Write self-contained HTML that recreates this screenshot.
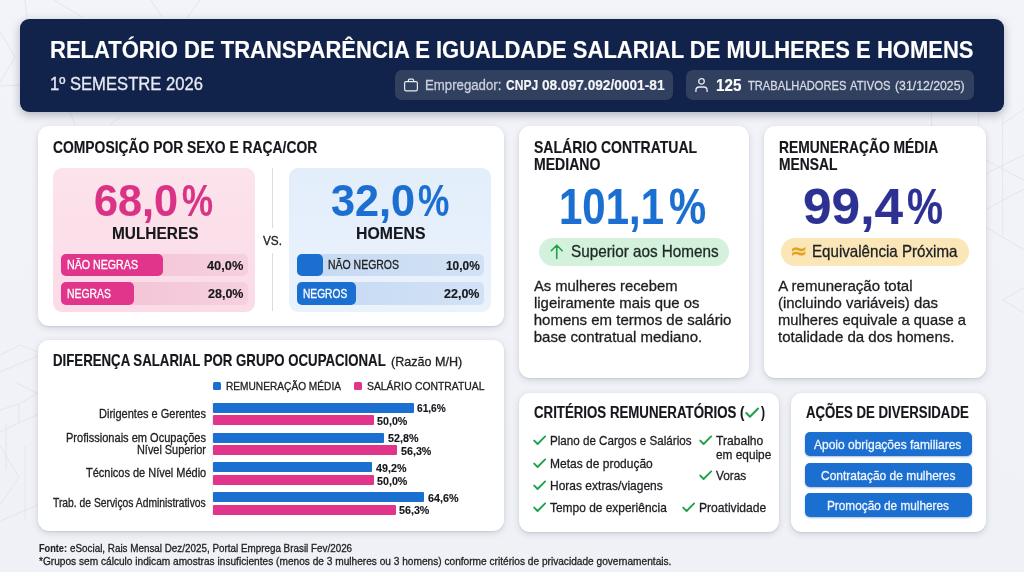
<!DOCTYPE html>
<html lang="pt-BR">
<head>
<meta charset="utf-8">
<title>Relatório de Transparência e Igualdade Salarial</title>
<style>
html,body{margin:0;padding:0;}
body{width:1024px;height:572px;overflow:hidden;position:relative;background:linear-gradient(180deg,#f3f4f9 0%,#eff1f6 100%);font-family:"Liberation Sans",Arial,sans-serif;}
.t{position:absolute;white-space:nowrap;line-height:1;margin:0;transform-origin:0 50%;-webkit-text-stroke:0.3px currentColor;}
.b{font-weight:700;-webkit-text-stroke:0.15px currentColor;}
.r{position:absolute;}
.bgl{position:absolute;left:0;top:0;}
</style>
</head>
<body>
<svg class="bgl" width="1024" height="572" viewBox="0 0 1024 572" fill="none" stroke="#dfe2ea" stroke-width="0.8">
<path d="M54 0 82 17M25 0 27 19M151 0 162 17M200 0 187 18M0 32 15 57 0 82M0 86 20 85M70 112 75 125M120 117 110 125"/>
<path d="M1002.6 117V235M985 159.5 1024 180.5M985 174 1024 155M985 210 1024 189M985 226.7 1024 249.8M1024 109 1002.6 124M1024 287.5 1002.6 300 1024 312.7M978.7 112V125M931.5 112V126"/>
<path d="M16.8 383 37.8 393.4 18.9 404V423L37.8 414.4M0 410 18.9 404M0 446 18.9 477 0 505M25.2 446V521M0 521 37.8 505M0 355 20 345 38 352M0 372 38 356M6 423 6 470M18.9 423 0 432"/>
</svg>
<header>
<div class="r" style="left:20.00px;top:19.00px;width:984.00px;height:92.50px;background:#11234b;border-radius:9px;box-shadow:0 3px 10px rgba(20,30,60,.30);"></div>
<div class="t b" style="left:50.00px;top:38.40px;font-size:24px;color:#fff;transform:scaleX(0.9169);">RELATÓRIO DE TRANSPARÊNCIA E IGUALDADE SALARIAL DE MULHERES E HOMENS</div>
<div class="t" style="left:50.00px;top:75.20px;font-size:18px;color:#e8ebf2;transform:scaleX(0.9236);">1º SEMESTRE 2026</div>
<div class="r" style="left:394.70px;top:70.00px;width:278.30px;height:30.00px;background:#32405f;border-radius:7px;"></div>
<div class="r" style="left:685.60px;top:70.00px;width:288.40px;height:30.00px;background:#32405f;border-radius:7px;"></div>
<svg class="r" style="left:403px;top:76.5px" width="16" height="16" viewBox="0 0 16 16" fill="none" stroke="#e8ebf2" stroke-width="1.2" stroke-linejoin="round"><rect x="1.6" y="4.6" width="12.8" height="9.2" rx="1.6"/><path d="M5.4 4.6V3.2a1 1 0 0 1 1-1h3.2a1 1 0 0 1 1 1v1.4"/></svg>
<div class="t" style="left:425.00px;top:77.90px;font-size:14.5px;color:#c9cfdc;transform:scaleX(0.9103);">Empregador:</div>
<div class="t b" style="left:505.60px;top:77.90px;font-size:14.5px;color:#f3f5f9;transform:scaleX(0.8325);">CNPJ</div>
<div class="t b" style="left:541.90px;top:77.90px;font-size:14.5px;color:#f3f5f9;transform:scaleX(0.9437);">08.097.092/0001-81</div>
<svg class="r" style="left:694px;top:77px" width="15" height="16" viewBox="0 0 15 16" fill="none" stroke="#e8ebf2" stroke-width="1.3" stroke-linecap="butt"><circle cx="7.5" cy="4.4" r="2.8"/><path d="M1.9 14.9v-1.5a3.4 3.4 0 0 1 3.4-3.4h4.4a3.4 3.4 0 0 1 3.4 3.4v1.5"/></svg>
<div class="t b" style="left:716.30px;top:78.00px;font-size:16.8px;color:#fff;transform:scaleX(0.9062);">125</div>
<div class="t" style="left:747.50px;top:79.30px;font-size:13.4px;color:#d5dae5;transform:scaleX(0.8320);">TRABALHADORES</div>
<div class="t" style="left:850.30px;top:79.30px;font-size:13.4px;color:#d5dae5;transform:scaleX(0.8390);">ATIVOS</div>
<div class="t" style="left:895.20px;top:79.30px;font-size:13.4px;color:#d5dae5;transform:scaleX(0.9159);">(31/12/2025)</div>
</header>
<main>
<section class="card composicao">
<div class="r" style="left:38.20px;top:126.00px;width:466.00px;height:199.50px;background:#fff;border-radius:11px;box-shadow:0 2px 7px rgba(40,50,80,.15),0 1px 2px rgba(40,50,80,.10);"></div>
<div class="t b" style="left:53.00px;top:139.60px;font-size:16px;color:#15171c;transform:scaleX(0.8666);">COMPOSIÇÃO POR SEXO E RAÇA/COR</div>
<div class="r" style="left:52.50px;top:168.00px;width:202.50px;height:143.50px;background:linear-gradient(180deg,#fce3ec,#fadbe7);border-radius:9px;"></div>
<div class="t b" style="left:94.00px;top:179.50px;font-size:43.5px;color:#da3385;transform:scaleX(0.9922);">68,0</div>
<div class="t b" style="left:181.80px;top:179.50px;font-size:43.5px;color:#da3385;transform:scaleX(0.8015);">%</div>
<div class="t b" style="left:112.00px;top:225.00px;font-size:17.2px;color:#15171c;transform:scaleX(0.8962);">MULHERES</div>
<div class="r" style="left:61.25px;top:253.75px;width:186.75px;height:22.00px;background:linear-gradient(90deg,#f2bfd3,#f6d0de);border-radius:5px;"></div>
<div class="r" style="left:61.25px;top:253.75px;width:101.75px;height:22.00px;background:#e0358b;border-radius:5px;"></div>
<div class="r" style="left:61.25px;top:282.00px;width:186.75px;height:22.50px;background:linear-gradient(90deg,#f2bfd3,#f6d0de);border-radius:5px;"></div>
<div class="r" style="left:61.25px;top:282.00px;width:73.00px;height:22.50px;background:#e0358b;border-radius:5px;"></div>
<div class="t" style="left:66.50px;top:259.40px;font-size:12px;color:#fff;transform:scaleX(0.8873);">NÃO NEGRAS</div>
<div class="t" style="left:66.50px;top:287.90px;font-size:12px;color:#fff;transform:scaleX(0.8682);">NEGRAS</div>
<div class="t b" style="left:207.00px;top:258.60px;font-size:13px;color:#15171c;transform:scaleX(0.9834);">40,0%</div>
<div class="t b" style="left:207.75px;top:287.10px;font-size:13px;color:#15171c;transform:scaleX(0.9631);">28,0%</div>
<div class="r" style="left:272.00px;top:168.00px;width:1.00px;height:60.00px;background:#d9dce3;border-radius:0px;"></div>
<div class="r" style="left:272.00px;top:252.50px;width:1.00px;height:58.50px;background:#d9dce3;border-radius:0px;"></div>
<div class="t" style="left:263.00px;top:234.00px;font-size:13px;color:#222;transform:scaleX(0.9068);">VS.</div>
<div class="r" style="left:289.25px;top:168.00px;width:201.25px;height:143.50px;background:linear-gradient(180deg,#e3eefb,#eaf2fc);border-radius:9px;"></div>
<div class="t b" style="left:330.50px;top:179.50px;font-size:43.5px;color:#1b6fd1;transform:scaleX(0.9922);">32,0</div>
<div class="t b" style="left:417.50px;top:179.50px;font-size:43.5px;color:#1b6fd1;transform:scaleX(0.8092);">%</div>
<div class="t b" style="left:356.00px;top:225.00px;font-size:17.2px;color:#15171c;transform:scaleX(0.9206);">HOMENS</div>
<div class="r" style="left:297.25px;top:253.75px;width:186.75px;height:22.00px;background:linear-gradient(90deg,#c5d9f2,#d2e2f6);border-radius:5px;"></div>
<div class="r" style="left:297.25px;top:253.75px;width:25.50px;height:22.00px;background:#1b6fd1;border-radius:5px;"></div>
<div class="r" style="left:297.25px;top:282.00px;width:186.75px;height:22.50px;background:linear-gradient(90deg,#c5d9f2,#d2e2f6);border-radius:5px;"></div>
<div class="r" style="left:297.25px;top:282.00px;width:58.25px;height:22.50px;background:#1b6fd1;border-radius:5px;"></div>
<div class="t" style="left:328.00px;top:259.40px;font-size:12px;color:#222;transform:scaleX(0.8728);">NÃO NEGROS</div>
<div class="t" style="left:302.75px;top:287.90px;font-size:12px;color:#fff;transform:scaleX(0.8508);">NEGROS</div>
<div class="t b" style="left:446.00px;top:258.60px;font-size:13px;color:#15171c;transform:scaleX(0.9156);">10,0%</div>
<div class="t b" style="left:444.25px;top:287.10px;font-size:13px;color:#15171c;transform:scaleX(0.9631);">22,0%</div>
</section>
<section class="card diferenca">
<div class="r" style="left:38.20px;top:340.20px;width:466.00px;height:191.30px;background:#fff;border-radius:11px;box-shadow:0 2px 7px rgba(40,50,80,.15),0 1px 2px rgba(40,50,80,.10);"></div>
<div class="t b" style="left:53.00px;top:352.90px;font-size:15.7px;color:#15171c;transform:scaleX(0.8434);">DIFERENÇA SALARIAL POR GRUPO OCUPACIONAL</div>
<div class="t" style="left:391.00px;top:354.75px;font-size:13.5px;color:#222;transform:scaleX(0.9312);">(Razão M/H)</div>
<div class="r" style="left:212.80px;top:381.50px;width:8.20px;height:8.40px;background:#1b6fd1;border-radius:1.5px;"></div>
<div class="t" style="left:225.50px;top:381.00px;font-size:11.5px;color:#222;transform:scaleX(0.8823);">REMUNERAÇÃO MÉDIA</div>
<div class="r" style="left:354.30px;top:381.50px;width:8.20px;height:8.40px;background:#e0358b;border-radius:1.5px;"></div>
<div class="t" style="left:367.25px;top:381.00px;font-size:11.5px;color:#222;transform:scaleX(0.9028);">SALÁRIO CONTRATUAL</div>
<div class="r" style="left:212.00px;top:400.00px;width:1.00px;height:118.00px;background:#eceef2;border-radius:0px;"></div>
<div class="r" style="left:212.50px;top:402.50px;width:201.00px;height:10.00px;background:#1b6fd1;border-radius:1px;"></div>
<div class="r" style="left:212.50px;top:414.90px;width:161.00px;height:10.00px;background:#e0358b;border-radius:1px;"></div>
<div class="t b" style="left:417.25px;top:403.10px;font-size:11.8px;color:#15171c;transform:scaleX(0.8593);">61,6%</div>
<div class="t b" style="left:377.25px;top:415.60px;font-size:11.8px;color:#15171c;transform:scaleX(0.9086);">50,0%</div>
<div class="r" style="left:212.50px;top:432.50px;width:171.75px;height:10.00px;background:#1b6fd1;border-radius:1px;"></div>
<div class="r" style="left:212.50px;top:444.90px;width:184.25px;height:10.00px;background:#e0358b;border-radius:1px;"></div>
<div class="t b" style="left:388.00px;top:433.10px;font-size:11.8px;color:#15171c;transform:scaleX(0.9116);">52,8%</div>
<div class="t b" style="left:400.50px;top:445.60px;font-size:11.8px;color:#15171c;transform:scaleX(0.9086);">56,3%</div>
<div class="r" style="left:212.50px;top:462.40px;width:159.25px;height:10.00px;background:#1b6fd1;border-radius:1px;"></div>
<div class="r" style="left:212.50px;top:474.80px;width:161.00px;height:10.00px;background:#e0358b;border-radius:1px;"></div>
<div class="t b" style="left:375.50px;top:463.00px;font-size:11.8px;color:#15171c;transform:scaleX(0.9116);">49,2%</div>
<div class="t b" style="left:377.25px;top:475.50px;font-size:11.8px;color:#15171c;transform:scaleX(0.9086);">50,0%</div>
<div class="r" style="left:212.50px;top:492.30px;width:211.50px;height:10.00px;background:#1b6fd1;border-radius:1px;"></div>
<div class="r" style="left:212.50px;top:504.70px;width:183.00px;height:10.00px;background:#e0358b;border-radius:1px;"></div>
<div class="t b" style="left:427.75px;top:492.90px;font-size:11.8px;color:#15171c;transform:scaleX(0.9116);">64,6%</div>
<div class="t b" style="left:399.25px;top:505.40px;font-size:11.8px;color:#15171c;transform:scaleX(0.9086);">56,3%</div>
<div class="t" style="left:98.75px;top:408.00px;font-size:12.3px;color:#222;transform:scaleX(0.8943);">Dirigentes e Gerentes</div>
<div class="t" style="left:65.75px;top:431.60px;font-size:12.3px;color:#222;transform:scaleX(0.8982);">Profissionais em Ocupações</div>
<div class="t" style="left:136.75px;top:444.00px;font-size:12.3px;color:#222;transform:scaleX(0.8854);">Nível Superior</div>
<div class="t" style="left:85.50px;top:467.40px;font-size:12.3px;color:#222;transform:scaleX(0.8929);">Técnicos de Nível Médio</div>
<div class="t" style="left:53.00px;top:497.20px;font-size:12.3px;color:#222;transform:scaleX(0.8390);">Trab. de Serviços Administrativos</div>
</section>
<footer>
<div class="t b" style="left:39.25px;top:543.20px;font-size:11.1px;color:#222;transform:scaleX(0.8258);">Fonte:</div>
<div class="t" style="left:70.00px;top:543.20px;font-size:11.1px;color:#222;transform:scaleX(0.8883);">eSocial, Rais Mensal Dez/2025, Portal Emprega Brasil Fev/2026</div>
<div class="t" style="left:39.25px;top:555.60px;font-size:11.1px;color:#222;transform:scaleX(0.9133);">*Grupos sem cálculo indicam amostras insuficientes (menos de 3 mulheres ou 3 homens) conforme critérios de privacidade governamentais.</div>
</footer>
<section class="card salario">
<div class="r" style="left:519.30px;top:126.00px;width:230.00px;height:251.50px;background:#fff;border-radius:11px;box-shadow:0 2px 7px rgba(40,50,80,.15),0 1px 2px rgba(40,50,80,.10);"></div>
<div class="t b" style="left:533.75px;top:138.70px;font-size:16.2px;color:#15171c;transform:scaleX(0.8652);">SALÁRIO CONTRATUAL</div>
<div class="t b" style="left:533.75px;top:156.20px;font-size:16.2px;color:#15171c;transform:scaleX(0.8693);">MEDIANO</div>
<div class="t b" style="left:558.60px;top:181.50px;font-size:49.5px;color:#1b6fd1;transform:scaleX(0.8477);">101,1</div>
<div class="t b" style="left:669.00px;top:181.50px;font-size:49.5px;color:#1b6fd1;transform:scaleX(0.8452);">%</div>
<div class="r" style="left:538.75px;top:238.00px;width:190.00px;height:27.50px;background:#d4f1de;border-radius:14px;"></div>
<svg class="r" style="left:549.5px;top:244.3px" width="13.5" height="15.5" viewBox="0 0 13.5 15.5" fill="none" stroke="#1fa24a" stroke-width="1.6" stroke-linecap="round" stroke-linejoin="round"><path d="M6.75 14.4V1.3M1.3 6.7 6.75 1.2 12.2 6.7"/></svg>
<div class="t" style="left:570.50px;top:243.40px;font-size:16.1px;color:#1c2a22;transform:scaleX(0.9489);">Superior aos Homens</div>
<div class="t" style="left:533.75px;top:277.50px;font-size:15px;color:#1c1e22;transform:scaleX(0.9836);">As mulheres recebem</div>
<div class="t" style="left:533.75px;top:295.00px;font-size:15px;color:#1c1e22;transform:scaleX(0.9925);">ligeiramente mais que os</div>
<div class="t" style="left:533.75px;top:312.00px;font-size:15px;color:#1c1e22;">homens em termos de salário</div>
<div class="t" style="left:533.75px;top:329.00px;font-size:15px;color:#1c1e22;">base contratual mediano.</div>
</section>
<section class="card remuneracao">
<div class="r" style="left:764.30px;top:126.00px;width:221.30px;height:251.50px;background:#fff;border-radius:11px;box-shadow:0 2px 7px rgba(40,50,80,.15),0 1px 2px rgba(40,50,80,.10);"></div>
<div class="t b" style="left:778.75px;top:138.70px;font-size:16.2px;color:#15171c;transform:scaleX(0.8548);">REMUNERAÇÃO MÉDIA</div>
<div class="t b" style="left:778.75px;top:156.20px;font-size:16.2px;color:#15171c;transform:scaleX(0.8553);">MENSAL</div>
<div class="t b" style="left:803.30px;top:181.50px;font-size:49.5px;color:#2d3193;transform:scaleX(1.0380);">99,4</div>
<div class="t b" style="left:907.00px;top:181.50px;font-size:49.5px;color:#2d3193;transform:scaleX(0.8179);">%</div>
<div class="r" style="left:781.25px;top:238.00px;width:188.00px;height:27.50px;background:#fbe6b8;border-radius:14px;"></div>
<div class="t b" style="left:790.00px;top:240.80px;font-size:21px;color:#e4a11f;font-family:'DejaVu Sans',sans-serif;">≈</div>
<div class="t" style="left:812.00px;top:243.40px;font-size:16.1px;color:#1c1e22;transform:scaleX(0.9398);">Equivalência Próxima</div>
<div class="t" style="left:778.25px;top:277.50px;font-size:15px;color:#1c1e22;">A remuneração total</div>
<div class="t" style="left:778.25px;top:295.00px;font-size:15px;color:#1c1e22;transform:scaleX(0.9944);">(incluindo variáveis) das</div>
<div class="t" style="left:778.25px;top:312.00px;font-size:15px;color:#1c1e22;transform:scaleX(0.9802);">mulheres equivale a quase a</div>
<div class="t" style="left:778.25px;top:329.00px;font-size:15px;color:#1c1e22;transform:scaleX(1.0031);">totalidade da dos homens.</div>
</section>
<section class="card criterios">
<div class="r" style="left:519.25px;top:393.00px;width:259.50px;height:138.50px;background:#fff;border-radius:11px;box-shadow:0 2px 7px rgba(40,50,80,.15),0 1px 2px rgba(40,50,80,.10);"></div>
<div class="t b" style="left:533.75px;top:405.40px;font-size:15.8px;color:#15171c;transform:scaleX(0.8395);">CRITÉRIOS REMUNERATÓRIOS (</div>
<div class="t b" style="left:760.60px;top:405.40px;font-size:15.8px;color:#15171c;transform:scaleX(0.7602);">)</div>
<svg class="r" style="left:745.2px;top:407.2px" width="14.4" height="11.3" viewBox="0 0 14 11" fill="none" stroke="#1fa24a" stroke-width="2" stroke-linecap="round" stroke-linejoin="round"><path d="M1.3 5.9 4.8 9.4 12.7 1.5"/></svg>
<svg class="r" style="left:533px;top:435.15px" width="13.4" height="10.5" viewBox="0 0 14 11" fill="none" stroke="#1fa24a" stroke-width="2" stroke-linecap="round" stroke-linejoin="round"><path d="M1.3 5.9 4.8 9.4 12.7 1.5"/></svg>
<div class="t" style="left:550.45px;top:434.25px;font-size:13.3px;color:#1c1e22;transform:scaleX(0.8742);">Plano de Cargos e Salários</div>
<svg class="r" style="left:533px;top:457.65px" width="13.4" height="10.5" viewBox="0 0 14 11" fill="none" stroke="#1fa24a" stroke-width="2" stroke-linecap="round" stroke-linejoin="round"><path d="M1.3 5.9 4.8 9.4 12.7 1.5"/></svg>
<div class="t" style="left:550.45px;top:456.75px;font-size:13.3px;color:#1c1e22;transform:scaleX(0.9028);">Metas de produção</div>
<svg class="r" style="left:533px;top:479.65px" width="13.4" height="10.5" viewBox="0 0 14 11" fill="none" stroke="#1fa24a" stroke-width="2" stroke-linecap="round" stroke-linejoin="round"><path d="M1.3 5.9 4.8 9.4 12.7 1.5"/></svg>
<div class="t" style="left:550.45px;top:478.75px;font-size:13.3px;color:#1c1e22;transform:scaleX(0.9029);">Horas extras/viagens</div>
<svg class="r" style="left:533px;top:501.9px" width="13.4" height="10.5" viewBox="0 0 14 11" fill="none" stroke="#1fa24a" stroke-width="2" stroke-linecap="round" stroke-linejoin="round"><path d="M1.3 5.9 4.8 9.4 12.7 1.5"/></svg>
<div class="t" style="left:550.45px;top:501.00px;font-size:13.3px;color:#1c1e22;transform:scaleX(0.8976);">Tempo de experiência</div>
<svg class="r" style="left:699.3px;top:435.15px" width="13.4" height="10.5" viewBox="0 0 14 11" fill="none" stroke="#1fa24a" stroke-width="2" stroke-linecap="round" stroke-linejoin="round"><path d="M1.3 5.9 4.8 9.4 12.7 1.5"/></svg>
<div class="t" style="left:715.95px;top:434.25px;font-size:13.3px;color:#1c1e22;transform:scaleX(0.9096);">Trabalho</div>
<div class="t" style="left:715.95px;top:447.50px;font-size:13.3px;color:#1c1e22;transform:scaleX(0.8904);">em equipe</div>
<svg class="r" style="left:699.3px;top:470.15px" width="13.4" height="10.5" viewBox="0 0 14 11" fill="none" stroke="#1fa24a" stroke-width="2" stroke-linecap="round" stroke-linejoin="round"><path d="M1.3 5.9 4.8 9.4 12.7 1.5"/></svg>
<div class="t" style="left:715.95px;top:469.25px;font-size:13.3px;color:#1c1e22;transform:scaleX(0.8909);">Voras</div>
<svg class="r" style="left:682px;top:501.9px" width="13.4" height="10.5" viewBox="0 0 14 11" fill="none" stroke="#1fa24a" stroke-width="2" stroke-linecap="round" stroke-linejoin="round"><path d="M1.3 5.9 4.8 9.4 12.7 1.5"/></svg>
<div class="t" style="left:699.20px;top:501.00px;font-size:13.3px;color:#1c1e22;transform:scaleX(0.9102);">Proatividade</div>
</section>
<section class="card acoes">
<div class="r" style="left:791.25px;top:392.50px;width:194.50px;height:139.00px;background:#fff;border-radius:11px;box-shadow:0 2px 7px rgba(40,50,80,.15),0 1px 2px rgba(40,50,80,.10);"></div>
<div class="t b" style="left:805.50px;top:405.40px;font-size:15.8px;color:#15171c;transform:scaleX(0.8350);">AÇÕES DE DIVERSIDADE</div>
<div class="r" style="left:804.50px;top:432.10px;width:167.25px;height:24.10px;background:#1b6fd1;border-radius:5px;box-shadow:0 1px 2px rgba(20,60,140,.35);"></div>
<div class="t" style="left:814.40px;top:437.70px;font-size:13.3px;color:#f1f6fd;transform:scaleX(0.9022);">Apoio obrigações familiares</div>
<div class="r" style="left:804.50px;top:462.90px;width:167.25px;height:24.10px;background:#1b6fd1;border-radius:5px;box-shadow:0 1px 2px rgba(20,60,140,.35);"></div>
<div class="t" style="left:820.85px;top:468.50px;font-size:13.3px;color:#f1f6fd;transform:scaleX(0.9006);">Contratação de mulheres</div>
<div class="r" style="left:804.50px;top:493.30px;width:167.25px;height:24.20px;background:#1b6fd1;border-radius:5px;box-shadow:0 1px 2px rgba(20,60,140,.35);"></div>
<div class="t" style="left:827.10px;top:498.90px;font-size:13.3px;color:#f1f6fd;transform:scaleX(0.8873);">Promoção de mulheres</div>
</section>
</main>
</body>
</html>
